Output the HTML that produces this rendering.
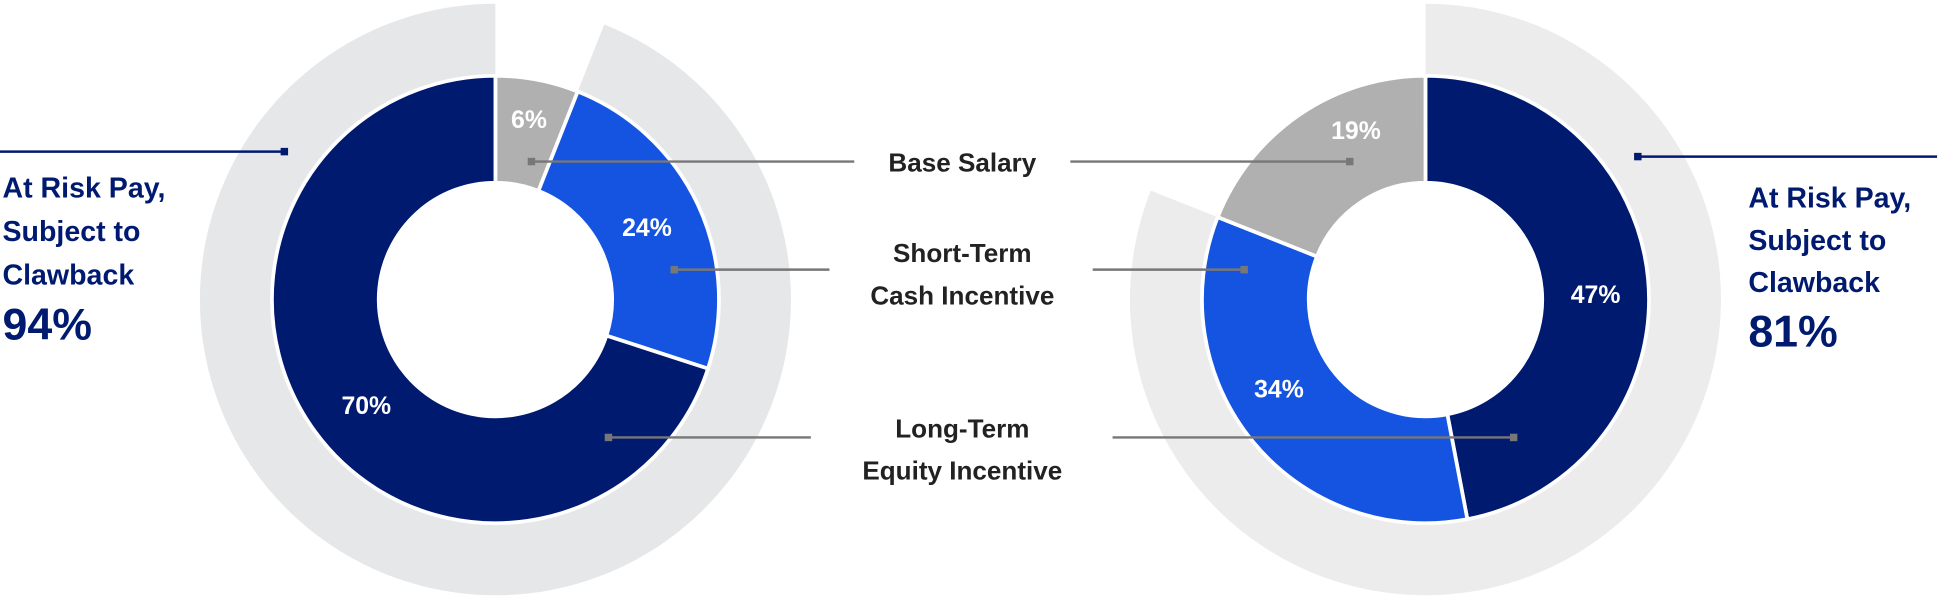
<!DOCTYPE html>
<html><head><meta charset="utf-8"><style>
html,body{margin:0;padding:0;background:#fff;width:1947px;height:599px;overflow:hidden}
svg{display:block}
text{font-family:"Liberation Sans",sans-serif;font-weight:bold}
</style></head><body>
<svg id="s" width="1947" height="599" viewBox="0 0 1568 482" preserveAspectRatio="none">
<g id="g"></g>
<g fill="#fff" font-size="20" text-anchor="middle">
<text x="426" y="103">6%</text>
<text x="521" y="190">24%</text>
<text x="295" y="333">70%</text>
<text x="1092" y="112">19%</text>
<text x="1030" y="320">34%</text>
<text x="1285" y="244">47%</text>
</g>
<g stroke="#777" stroke-width="2">
<line x1="428" y1="130" x2="688" y2="130"/><line x1="862" y1="130" x2="1087" y2="130"/>
<line x1="543" y1="217" x2="668" y2="217"/><line x1="880" y1="217" x2="1002" y2="217"/>
<line x1="490" y1="352" x2="653" y2="352"/><line x1="896" y1="352" x2="1219" y2="352"/>
</g>
<g fill="#777">
<rect x="425" y="127" width="6" height="6"/><rect x="1084" y="127" width="6" height="6"/>
<rect x="540" y="214" width="6" height="6"/><rect x="999" y="214" width="6" height="6"/>
<rect x="487" y="349" width="6" height="6"/><rect x="1216" y="349" width="6" height="6"/>
</g>
<g stroke="#001a70" stroke-width="2"><line x1="0" y1="122" x2="229" y2="122"/><line x1="1319" y1="126" x2="1560" y2="126"/></g>
<g fill="#001a70"><rect x="226" y="119" width="6" height="6"/><rect x="1316" y="123" width="6" height="6"/></g>
<g fill="#222" font-size="21" text-anchor="middle">
<text x="775" y="138">Base Salary</text>
<text x="775" y="211">Short-Term</text>
<text x="775" y="245">Cash Incentive</text>
<text x="775" y="352">Long-Term</text>
<text x="775" y="386">Equity Incentive</text>
</g>
<g fill="#001a70" font-size="23">
<text x="2" y="159">At Risk Pay,</text>
<text x="2" y="194">Subject to</text>
<text x="2" y="229">Clawback</text>
<text x="2" y="273" font-size="36">94%</text>
<text x="1408" y="167">At Risk Pay,</text>
<text x="1408" y="201">Subject to</text>
<text x="1408" y="235">Clawback</text>
<text x="1408" y="279" font-size="36">81%</text>
</g>
</svg>
<script>
function arc(cx,cy,r0,r1,a0,a1){
 function p(r,a){a=(a-90)*Math.PI/180;return (cx+r*Math.cos(a)).toFixed(2)+' '+(cy+r*Math.sin(a)).toFixed(2);}
 var l=(a1-a0)>180?1:0;
 return 'M'+p(r1,a0)+' A'+r1+' '+r1+' 0 '+l+' 1 '+p(r1,a1)+' L'+p(r0,a1)+' A'+r0+' '+r0+' 0 '+l+' 0 '+p(r0,a0)+'Z';
}
var g=document.getElementById('g'),h='';
function add(d,f,s){h+='<path d="'+d+'" fill="'+f+'"'+(s?' stroke="#fff" stroke-width="3" stroke-linejoin="round"':'')+'/>';}
var L=[399,241],R=[1148,241];
add(arc(L[0],L[1],0,238,21.6,359.99),'#e6e7e8');
add(arc(R[0],R[1],0,238,0,291.6),'#ececec');
add(arc(L[0],L[1],94,180,0,21.6),'#b0b0b0',1);
add(arc(L[0],L[1],94,180,21.6,108),'#1554e0',1);
add(arc(L[0],L[1],94,180,108,359.99),'#001a70',1);
add(arc(R[0],R[1],94,180,0,169.2),'#001a70',1);
add(arc(R[0],R[1],94,180,169.2,291.6),'#1554e0',1);
add(arc(R[0],R[1],94,180,291.6,359.99),'#b0b0b0',1);
h+='<circle cx="'+L[0]+'" cy="'+L[1]+'" r="95" fill="#fff"/><circle cx="'+R[0]+'" cy="'+R[1]+'" r="95" fill="#fff"/>';
g.innerHTML=h;
</script>
</body></html>
